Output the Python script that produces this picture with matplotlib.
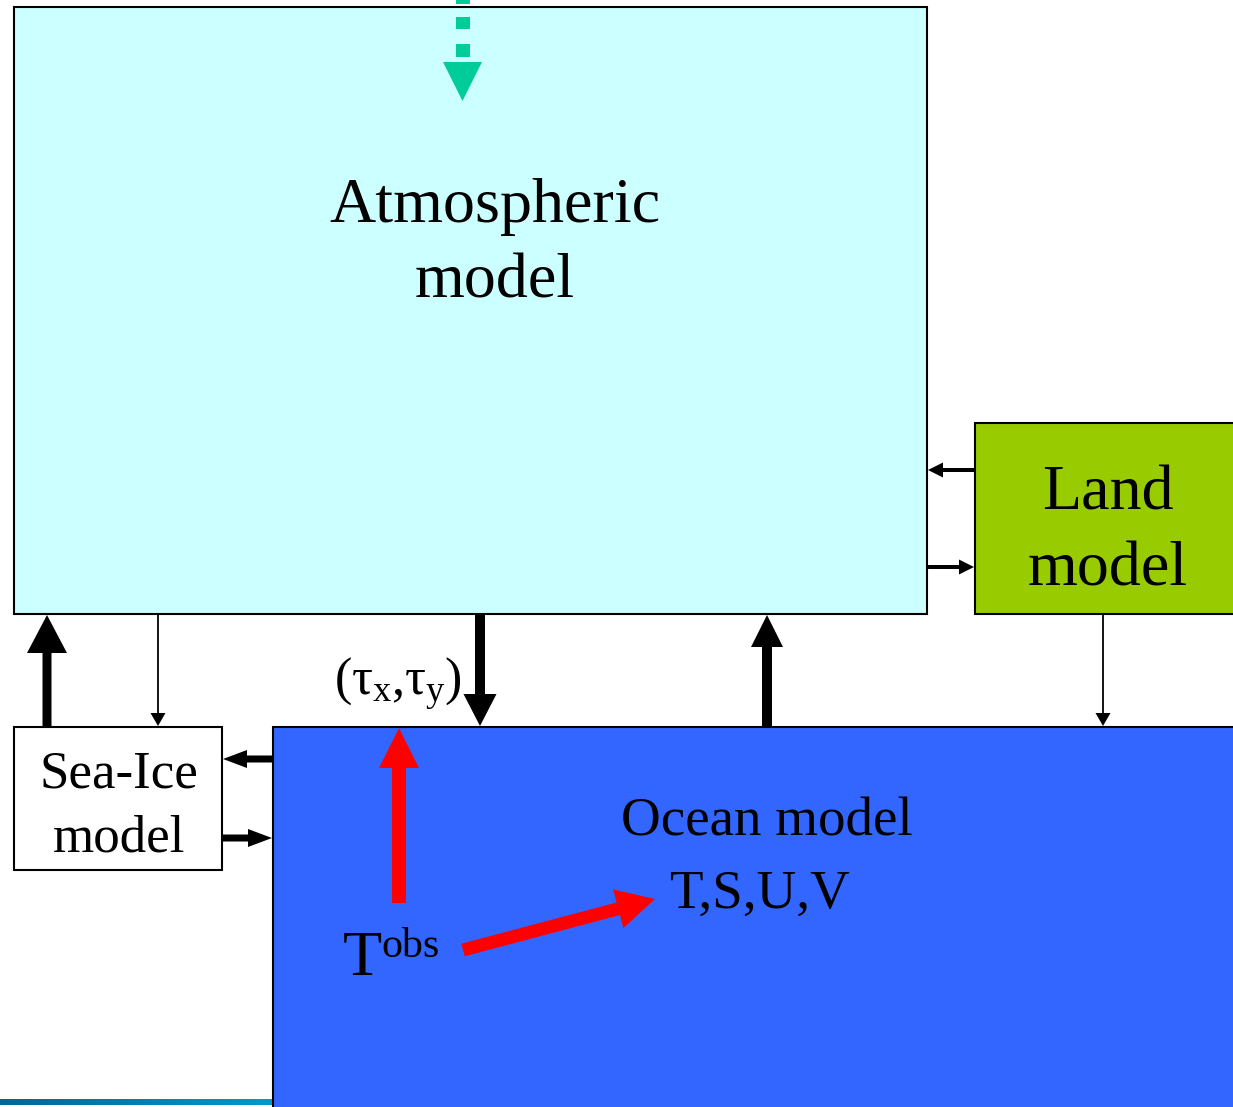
import matplotlib

matplotlib.use("Agg")
import matplotlib.pyplot as plt
from matplotlib.patches import Rectangle, FancyArrow, Polygon
from matplotlib.colors import LinearSegmentedColormap
import numpy as np

plt.rcParams["font.family"] = ["Liberation Serif", "DejaVu Serif"]
plt.rcParams["mathtext.fontset"] = "custom"
plt.rcParams["mathtext.rm"] = "Liberation Serif"
plt.rcParams["mathtext.it"] = "Liberation Serif"

W, H = 1233, 1107
PT = 72 / 100  # pixel -> point

# boxes: name, (x0, y0, x1, y1), fill
boxes = [
    ("atm", (14, 7, 927, 614), "#CCFFFF"),
    ("land", (975, 423, 1245, 614), "#99CC00"),
    ("ocean", (273, 727, 1245, 1120), "#3366FF"),
    ("ice", (14, 727, 222, 870), "#FFFFFF"),
]

# arrows: start, end, shaft width, head width, head length, colour
arrows = [
    ((47, 727), (47, 615), 9, 40, 38, "black"),       # sea-ice -> atm
    ((158, 615), (158, 726), 1.8, 15, 13, "black"),   # atm -> sea-ice
    ((480, 615), (480, 726), 10, 33, 32, "black"),    # atm -> ocean (stress)
    ((767, 726), (767, 615), 10, 32, 32, "black"),    # ocean -> atm
    ((274, 759), (223, 759), 7, 18, 24, "black"),     # ocean -> sea-ice
    ((223, 838), (272, 838), 7, 18, 24, "black"),     # sea-ice -> ocean
    ((975, 470), (928, 470), 4, 15, 15, "black"),     # land -> atm
    ((928, 567), (974, 567), 4, 15, 15, "black"),     # atm -> land
    ((1103, 615), (1103, 726), 1.8, 15, 13, "black"),  # land -> ocean
    ((399, 903), (399, 728), 14, 40, 40, "#FF0000"),  # T obs -> stress
    ((463, 950), (655, 899), 13, 40, 38, "#FF0000"),  # T obs -> T,S,U,V
]

# labels: text, x, baseline y, size (px), horizontal alignment
labels = [
    ("Atmospheric", 495, 222, 64, "center"),
    ("model", 495, 298, 64, "center"),
    ("Land", 1108, 510, 64, "center"),
    ("model", 1108, 586, 64, "center"),
    ("Sea-Ice", 119, 788, 53, "center"),
    ("model", 119, 852, 53, "center"),
    ("Ocean model", 767, 835, 55, "center"),
    ("T,S,U,V", 760, 908, 55, "center"),
]

fig = plt.figure(figsize=(W / 100, H / 100), dpi=100)
ax = fig.add_axes([0, 0, 1, 1])
ax.set_xlim(0, W)
ax.set_ylim(H, 0)
ax.axis("off")

for name, (x0, y0, x1, y1), fc in boxes:
    ax.add_patch(Rectangle((x0, y0), x1 - x0, y1 - y0, facecolor=fc,
                           edgecolor="black", linewidth=1.5, zorder=1))

for (xs, ys), (xe, ye), sw, hw, hl, c in arrows:
    ax.add_patch(FancyArrow(xs, ys, xe - xs, ye - ys, width=sw, head_width=hw,
                            head_length=hl, length_includes_head=True,
                            facecolor=c, edgecolor="none", zorder=3))

# dashed green arrow coming in from the top
green = "#00CC99"
dash_segments = [(-5, 4), (17, 29), (44, 57)]
for y0, y1 in dash_segments:
    ax.add_patch(Rectangle((456, y0), 14, y1 - y0, facecolor=green,
                           edgecolor="none", zorder=3))
ax.add_patch(Polygon([(443, 62), (482, 62), (462.5, 101)], closed=True,
                     facecolor=green, edgecolor="none", zorder=3))

for txt, x, y, size, ha in labels:
    ax.text(x, y, txt, fontsize=size * PT, ha=ha, va="baseline", zorder=4)

ax.text(398, 695, r"$(\tau_\mathrm{x}{,}\tau_\mathrm{y})$", fontsize=52 * PT,
        ha="center", va="baseline", zorder=4)
ax.text(343, 975, "T", fontsize=64 * PT, ha="left", va="baseline", zorder=4)
ax.text(381, 957, "obs", fontsize=42 * PT, ha="left", va="baseline", zorder=4)

# gradient rule at the bottom left
cmap = LinearSegmentedColormap.from_list("rule", ["#006699", "#0099CC"])
ax.imshow(np.linspace(0, 1, 256)[None, :], cmap=cmap, aspect="auto",
          extent=(0, 272, 1105, 1099), zorder=2)
ax.set_xlim(0, W)
ax.set_ylim(H, 0)

fig.savefig("out.png", dpi=100, facecolor="white")
